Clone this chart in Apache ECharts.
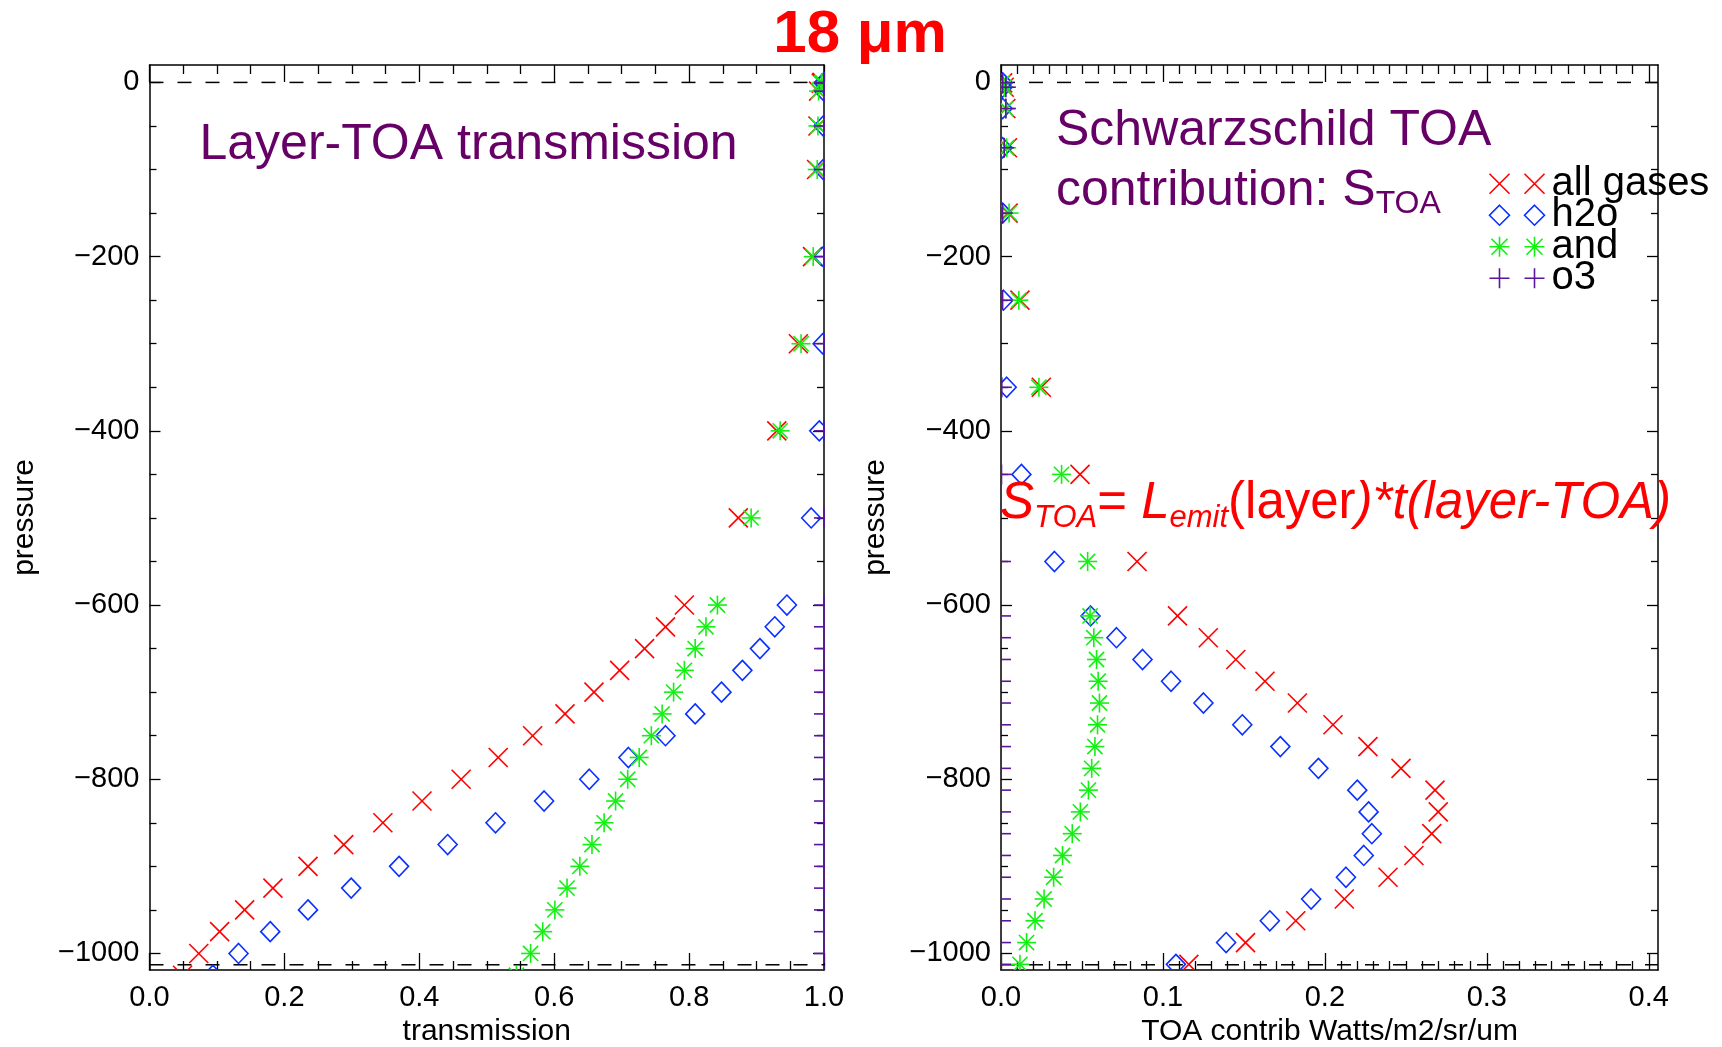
<!DOCTYPE html>
<html>
<head>
<meta charset="utf-8">
<script src="https://cdn.jsdelivr.net/npm/echarts@6/dist/echarts.min.js"></script>
<style>
  html, body { margin: 0; padding: 0; background: #fff; }
  #chart { width: 1722px; height: 1047px; }
</style>
</head>
<body>
<div id="chart"></div>
<script>
// Pressure levels (negative, so the surface is at the bottom) for the layer-to-TOA transmission panel
const levelPressure = [0, -1, -10, -50, -100, -200, -300, -400, -500, -600, -625, -650, -675, -700,
  -725, -750, -775, -800, -825, -850, -875, -900, -925, -950, -975, -1000, -1025];
const transAll = [0.997, 0.996, 0.992, 0.991, 0.989, 0.983, 0.962, 0.930, 0.873, 0.793, 0.765, 0.734, 0.697, 0.659,
  0.616, 0.568, 0.517, 0.462, 0.404, 0.346, 0.288, 0.235, 0.183, 0.141, 0.104, 0.073, 0.049];
const transH2o = [1.0, 1.0, 1.0, 0.999, 0.999, 0.999, 0.998, 0.993, 0.981, 0.945, 0.927, 0.905, 0.879, 0.848,
  0.809, 0.765, 0.710, 0.652, 0.585, 0.513, 0.442, 0.370, 0.299, 0.235, 0.179, 0.132, 0.094];
const transAnd = [0.997, 0.996, 0.992, 0.991, 0.990, 0.984, 0.966, 0.935, 0.892, 0.842, 0.825, 0.809, 0.793, 0.777,
  0.760, 0.744, 0.726, 0.709, 0.691, 0.674, 0.656, 0.638, 0.619, 0.601, 0.583, 0.565, 0.544];
const transO3 = [1.0, 1.0, 1.0, 1.0, 1.0, 1.0, 1.0, 1.0, 1.0, 1.0, 1.0, 1.0, 1.0, 1.0,
  1.0, 1.0, 1.0, 1.0, 1.0, 1.0, 1.0, 1.0, 1.0, 1.0, 1.0, 1.0, 1.0];

// Layer mid-point pressures for the Schwarzschild TOA contribution panel
const layerPressure = [-0.5, -5.5, -30, -75, -150, -250, -350, -450, -550, -612.5, -637.5, -662.5, -687.5,
  -712.5, -737.5, -762.5, -787.5, -812.5, -837.5, -862.5, -887.5, -912.5, -937.5, -962.5, -987.5, -1012.5];
const contribAll = [0.001, 0.002, 0.003, 0.004, 0.0044, 0.0117, 0.0249, 0.0488, 0.084, 0.109, 0.128, 0.145, 0.163,
  0.183, 0.205, 0.2266, 0.247, 0.268, 0.270, 0.266, 0.255, 0.239, 0.212, 0.182, 0.151, 0.116];
const contribH2o = [0.001, 0.001, 0.001, 0.001, 0.001, 0.0015, 0.0035, 0.0126, 0.033, 0.0553, 0.0713, 0.0874, 0.105,
  0.125, 0.149, 0.1725, 0.196, 0.220, 0.227, 0.229, 0.224, 0.213, 0.1915, 0.166, 0.139, 0.108];
const contribAnd = [0.001, 0.002, 0.003, 0.0035, 0.005, 0.011, 0.0234, 0.0374, 0.0535, 0.055, 0.0573, 0.059, 0.060,
  0.0608, 0.0596, 0.058, 0.056, 0.054, 0.049, 0.044, 0.038, 0.0325, 0.0266, 0.021, 0.0158, 0.0117];
const contribO3 = [0.001, 0.003, 0.003, 0.002, 0.001, 0.001, 0.0005, 0.0003, 0, 0, 0, 0, 0,
  0, 0, 0, 0, 0, 0, 0, 0, 0, 0, 0, 0, 0];

// Axis ranges and tick labels
const transRange = [0, 1];
const contribRange = [0, 0.4057];
const pressureRange = [-1019, 20];
const transTicks = [0, 0.2, 0.4, 0.6, 0.8, 1.0];
const contribTicks = [0, 0.1, 0.2, 0.3, 0.4];
const pressureTicks = [0, -200, -400, -600, -800, -1000];
const transMinorStep = 0.05;
const contribMinorStep = 0.01;
const pressureMinorStep = 50;

// Reference levels drawn as dashed lines
const toaPressure = 0;
const surfacePressure = -1013;

const gasNames = ['all gases', 'h2o', 'and', 'o3'];
const gasColors = ['#ff0000', '#0a30ff', '#12f012', '#5a14a0'];
const gasShapes = ['cross', 'diamond', 'asterisk', 'plus'];

const FONT = '"Liberation Sans", Arial, Helvetica, sans-serif';
const LW = 1.6;

function minorValues(majors, step) {
  const lo = Math.min.apply(null, majors), hi = Math.max.apply(null, majors);
  const out = [];
  const n = Math.round((hi - lo) / step);
  for (let i = 0; i <= n; i++) {
    const v = +(lo + i * step).toFixed(6);
    if (!majors.some(m => Math.abs(m - v) < step / 10)) out.push(v);
  }
  return out;
}

function axis(gridIndex, range, position, ticks, tickLen, extra) {
  return Object.assign({
    type: 'value', gridIndex, min: range[0], max: range[1], position,
    axisLine: { show: true, onZero: false, lineStyle: { color: '#000', width: 1.5 } },
    axisTick: { show: true, inside: true, length: tickLen, customValues: ticks,
      lineStyle: { color: '#000', width: 1.3 } },
    axisLabel: { show: false },
    splitLine: { show: false },
    minorTick: { show: false },
    silent: true
  }, extra || {});
}

const xLabel = (ticks) => ({
  show: true, customValues: ticks, margin: 13, color: '#000', fontSize: 29, fontFamily: FONT,
  formatter: v => v.toFixed(1)
});
const yLabel = {
  show: true, customValues: pressureTicks, margin: 10, color: '#000', fontSize: 29, fontFamily: FONT,
  formatter: v => (v < 0 ? '\u2212' + Math.abs(v) : String(v))
};
const axisNameStyle = { color: '#000', fontSize: 30, fontFamily: FONT };

function xAxesFor(gridIndex, range, majors, step, name) {
  const minors = minorValues(majors, step);
  return [
    axis(gridIndex, range, 'bottom', majors, 17, {
      axisLabel: xLabel(majors), name, nameLocation: 'middle', nameGap: 45, nameTextStyle: axisNameStyle
    }),
    axis(gridIndex, range, 'bottom', minors, 9, { axisLine: { show: false, onZero: false } }),
    axis(gridIndex, range, 'top', majors, 17),
    axis(gridIndex, range, 'top', minors, 9, { axisLine: { show: false, onZero: false } })
  ];
}

function yAxesFor(gridIndex) {
  const minors = minorValues(pressureTicks, pressureMinorStep);
  return [
    axis(gridIndex, pressureRange, 'left', pressureTicks, 11, {
      axisLabel: yLabel, name: 'pressure', nameLocation: 'middle', nameGap: 110, nameTextStyle: axisNameStyle
    }),
    axis(gridIndex, pressureRange, 'left', minors, 7, { axisLine: { show: false, onZero: false } }),
    axis(gridIndex, pressureRange, 'right', pressureTicks, 11),
    axis(gridIndex, pressureRange, 'right', minors, 7, { axisLine: { show: false, onZero: false } })
  ];
}

// Plot symbols drawn as stroked outlines
function markerChildren(shape, x, y, color) {
  const st = { stroke: color, lineWidth: LW, fill: 'none' };
  const ln = (x1, y1, x2, y2) => ({ type: 'line', shape: { x1, y1, x2, y2 }, style: st });
  const h = 9.5;
  switch (shape) {
    case 'cross':
      return [ln(x - h, y - h, x + h, y + h), ln(x + h, y - h, x - h, y + h)];
    case 'diamond':
      return [{ type: 'polygon', shape: { points: [[x, y - 10], [x + 9.5, y], [x, y + 10], [x - 9.5, y]] }, style: st }];
    case 'asterisk':
      return [ln(x, y - h, x, y + h), ln(x - h, y, x + h, y),
        ln(x - h * 0.8, y - h * 0.8, x + h * 0.8, y + h * 0.8), ln(x + h * 0.8, y - h * 0.8, x - h * 0.8, y + h * 0.8)];
    default:
      return [ln(x, y - 10, x, y + 10), ln(x - 10, y, x + 10, y)];
  }
}

function markerSeries(gasIndex, axisIndex, xs, ys) {
  const shape = gasShapes[gasIndex], color = gasColors[gasIndex];
  return {
    type: 'custom', name: gasNames[gasIndex], xAxisIndex: axisIndex, yAxisIndex: axisIndex,
    clip: true, silent: true, animation: false, z: 3,
    itemStyle: { color },
    data: xs.map((v, i) => [v, ys[i]]),
    renderItem: (params, api) => {
      const p = api.coord([api.value(0), api.value(1)]);
      return { type: 'group', children: markerChildren(shape, p[0], p[1], color) };
    }
  };
}

function dashedLevel(axisIndex, xRange, p) {
  return {
    type: 'line', xAxisIndex: axisIndex, yAxisIndex: axisIndex, silent: true, animation: false,
    symbol: 'none', clip: true, z: 2,
    lineStyle: { color: '#000', width: 1.5, type: [14, 14] },
    data: [[xRange[0], p], [xRange[1], p]]
  };
}

const legendIcons = [
  'path://M0,0L20,20M20,0L0,20M35,0L55,20M55,0L35,20',
  'path://M10,0L20,10L10,20L0,10ZM45,0L55,10L45,20L35,10Z',
  'path://M10,0L10,20M0,10L20,10M2,2L18,18M18,2L2,18M45,0L45,20M35,10L55,10M37,2L53,18M53,2L37,18',
  'path://M10,0L10,20M0,10L20,10M45,0L45,20M35,10L55,10'
];

const transSets = [transAll, transH2o, transAnd, transO3];
const contribSets = [contribAll, contribH2o, contribAnd, contribO3];

const series = [
  dashedLevel(0, transRange, toaPressure),
  dashedLevel(0, transRange, surfacePressure),
  dashedLevel(4, contribRange, toaPressure),
  dashedLevel(4, contribRange, surfacePressure)
];
transSets.forEach((vals, g) => series.push(markerSeries(g, 0, vals, levelPressure)));
contribSets.forEach((vals, g) => series.push(markerSeries(g, 4, vals, layerPressure)));

const option = {
  backgroundColor: '#fff',
  animation: false,
  grid: [
    { left: 149.5, right: 898, top: 65, bottom: 77, containLabel: false, outerBoundsMode: 'none' },
    { left: 1001, right: 64, top: 65, bottom: 77, containLabel: false, outerBoundsMode: 'none' }
  ],
  xAxis: [].concat(
    xAxesFor(0, transRange, transTicks, transMinorStep, 'transmission'),
    xAxesFor(1, contribRange, contribTicks, contribMinorStep, 'TOA contrib Watts/m2/sr/um')
  ),
  yAxis: [].concat(yAxesFor(0), yAxesFor(1)),
  legend: {
    orient: 'vertical', left: 1487, top: 163.7, padding: 0, itemGap: -8.5,
    itemWidth: 55, itemHeight: 20, selectedMode: false,
    textStyle: { fontSize: 40, fontFamily: FONT, color: '#000', padding: [0, 0, 0, 2] },
    data: gasNames.map((n, i) => ({
      name: n, icon: legendIcons[i],
      itemStyle: { color: 'none', borderColor: gasColors[i], borderWidth: LW }
    }))
  },
  series,
  graphic: [
    {
      type: 'text', x: 860, y: 35, z: 10,
      style: { text: '18 \u03bcm', fill: '#ff0000', fontSize: 60, fontWeight: 'bold', fontFamily: FONT,
        align: 'center', verticalAlign: 'middle' }
    },
    {
      type: 'text', x: 199.5, y: 145, z: 10,
      style: { text: 'Layer-TOA transmission', fill: '#660066', fontSize: 50, fontFamily: FONT,
        align: 'left', verticalAlign: 'middle' }
    },
    {
      type: 'text', x: 1056, y: 102, z: 10,
      style: {
        text: '{m|Schwarzschild TOA}\n{m|contribution: S}{s|TOA}',
        align: 'left', verticalAlign: 'top', fill: '#660066', fontFamily: FONT,
        rich: {
          m: { fontSize: 50, lineHeight: 59.3, fill: '#660066', fontFamily: FONT },
          s: { fontSize: 32, lineHeight: 21, verticalAlign: 'bottom', fill: '#660066', fontFamily: FONT }
        }
      }
    },
    {
      type: 'text', x: 1000, y: 473.5, z: 10,
      style: {
        text: '{si|S}{ss|TOA}{r|= }{si|L}{ss|emit}{r|(layer}{si|)*t(layer-TOA)}',
        align: 'left', verticalAlign: 'top', fill: '#ff0000', fontFamily: FONT,
        rich: {
          r: { fontSize: 51, lineHeight: 60, fill: '#ff0000', fontFamily: FONT },
          si: { fontSize: 51, lineHeight: 60, fontStyle: 'italic', fill: '#ff0000', fontFamily: FONT },
          ss: { fontSize: 31, lineHeight: 21, verticalAlign: 'bottom', fontStyle: 'italic', fill: '#ff0000', fontFamily: FONT }
        }
      }
    }
  ]
};

const chart = echarts.init(document.getElementById('chart'), null, { renderer: 'canvas' });
chart.setOption(option);
</script>
</body>
</html>
